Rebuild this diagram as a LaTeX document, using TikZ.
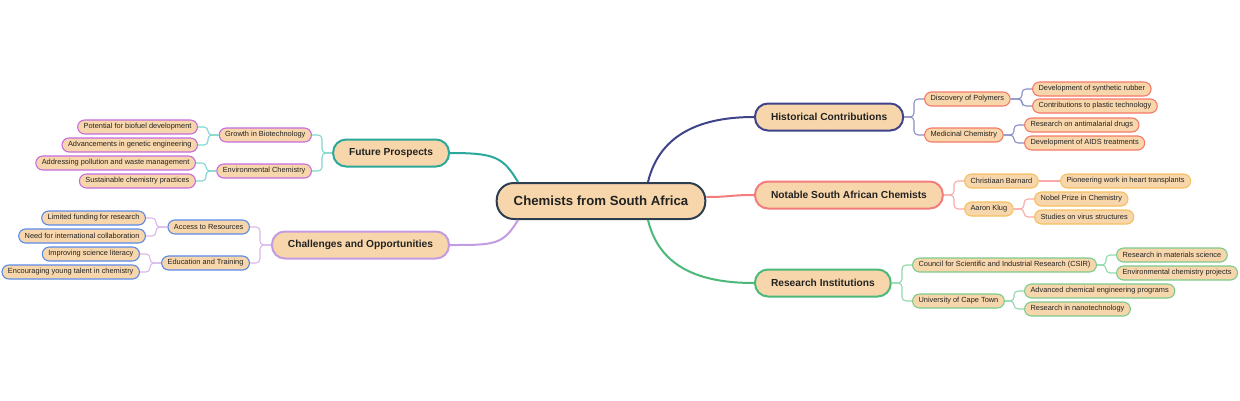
\documentclass[tikz,border=0pt]{standalone}
\usepackage{fontspec}
\setmainfont{Liberation Sans}
\usetikzlibrary{calc}
\definecolor{peach}{HTML}{F8D6AB}
\definecolor{rootc}{HTML}{2C3E50}
\definecolor{histc}{HTML}{3F448A}
\definecolor{histl}{HTML}{8A8FC4}
\definecolor{histb}{HTML}{F47A68}
\definecolor{notc}{HTML}{F47C7C}
\definecolor{notl}{HTML}{F8AAAA}
\definecolor{notb}{HTML}{F5C060}
\definecolor{resc}{HTML}{4CB87A}
\definecolor{resl}{HTML}{92D8AA}
\definecolor{resb}{HTML}{7CCB8C}
\definecolor{futc}{HTML}{2AA89A}
\definecolor{futl}{HTML}{80D6CE}
\definecolor{futb}{HTML}{C86CE0}
\definecolor{chac}{HTML}{C39BE0}
\definecolor{chal}{HTML}{D8B8EC}
\definecolor{chab}{HTML}{5A8AE8}
\definecolor{txt}{HTML}{222222}
\tikzset{
  rootbox/.style={draw=rootc, line width=2pt, fill=peach, rounded corners=17pt, minimum height=36pt, inner xsep=17pt, text=txt, font=\fontsize{13.2}{15}\selectfont\bfseries},
  mainbox/.style={draw=#1, line width=2pt, fill=peach, rounded corners=13pt, minimum height=27pt, inner xsep=16pt, text=txt, font=\fontsize{10.2}{12}\selectfont\bfseries},
  leafbox/.style={draw=#1, line width=1.1pt, fill=peach, rounded corners=7pt, minimum height=14pt, inner ysep=1pt, inner xsep=6pt, text=txt, font=\fontsize{7.4}{8.5}\selectfont},
  trunk/.style={draw=#1, line width=2pt},
  twig/.style={draw=#1, line width=1.1pt, rounded corners=4pt},
}
\newcommand{\rlink}[3]{\draw[twig=#1] (#2.east) -| ([xshift=-10pt]#3.west) -- (#3.west);}
\newcommand{\llink}[3]{\draw[twig=#1] (#2.west) -| ([xshift=10pt]#3.east) -- (#3.east);}
\begin{document}
\begin{tikzpicture}[x=1pt,y=-1pt]
\useasboundingbox (0,0) rectangle (1240,400);
% root
\node[rootbox] (root) at (601,201) {Chemists from South Africa};
% main branches
\node[mainbox=histc, anchor=west] (hist) at (754,117) {Historical Contributions};
\node[mainbox=notc, anchor=west] (nsac) at (754,195) {Notable South African Chemists};
\node[mainbox=resc, anchor=west] (res) at (754,283) {Research Institutions};
\node[mainbox=futc, anchor=east] (fut) at (450,153) {Future Prospects};
\node[mainbox=chac, anchor=east] (cha) at (450,245) {Challenges and Opportunities};
% root connectors
\draw[trunk=histc] ($(root.north)+(47,0)$) .. controls +(12,-50) and +(-50,0) .. (hist.west);
\draw[trunk=notc] ($(root.east)+(0,-4)$) .. controls +(25,0) and +(-25,0) .. (nsac.west);
\draw[trunk=resc] ($(root.south)+(47,0)$) .. controls +(12,50) and +(-50,0) .. (res.west);
\draw[trunk=futc] ($(root.north)+(-83,0)$) .. controls +(-15,-25) and +(45,0) .. (fut.east);
\draw[trunk=chac] ($(root.south)+(-83,0)$) .. controls +(-15,25) and +(45,0) .. (cha.east);
% Historical
\node[leafbox=histb, anchor=west] (poly) at (924,99) {Discovery of Polymers};
\node[leafbox=histb, anchor=west] (med) at (924,135) {Medicinal Chemistry};
\node[leafbox=histb, anchor=west] (rub) at (1032,89) {Development of synthetic rubber};
\node[leafbox=histb, anchor=west] (pla) at (1032,106) {Contributions to plastic technology};
\node[leafbox=histb, anchor=west] (mal) at (1024,125) {Research on antimalarial drugs};
\node[leafbox=histb, anchor=west] (aids) at (1024,143) {Development of AIDS treatments};
\rlink{histl}{hist}{poly}
\rlink{histl}{hist}{med}
\rlink{histl}{poly}{rub}
\rlink{histl}{poly}{pla}
\rlink{histl}{med}{mal}
\rlink{histl}{med}{aids}
% Notable
\node[leafbox=notb, anchor=west] (barn) at (964,181) {Christiaan Barnard};
\node[leafbox=notb, anchor=west] (klug) at (964,209) {Aaron Klug};
\node[leafbox=notb, anchor=west] (heart) at (1060,181) {Pioneering work in heart transplants};
\node[leafbox=notb, anchor=west] (nob) at (1034,199) {Nobel Prize in Chemistry};
\node[leafbox=notb, anchor=west] (vir) at (1034,217) {Studies on virus structures};
\rlink{notl}{nsac}{barn}
\rlink{notl}{nsac}{klug}
\draw[twig=notl] (barn.east) -- (heart.west);
\rlink{notl}{klug}{nob}
\rlink{notl}{klug}{vir}
% Research
\node[leafbox=resb, anchor=west] (csir) at (912,265) {Council for Scientific and Industrial Research (CSIR)};
\node[leafbox=resb, anchor=west] (uct) at (912,301) {University of Cape Town};
\node[leafbox=resb, anchor=west] (mat) at (1116,255) {Research in materials science};
\node[leafbox=resb, anchor=west] (envp) at (1116,273) {Environmental chemistry projects};
\node[leafbox=resb, anchor=west] (adv) at (1024,291) {Advanced chemical engineering programs};
\node[leafbox=resb, anchor=west] (nano) at (1024,309) {Research in nanotechnology};
\rlink{resl}{res}{csir}
\rlink{resl}{res}{uct}
\rlink{resl}{csir}{mat}
\rlink{resl}{csir}{envp}
\rlink{resl}{uct}{adv}
\rlink{resl}{uct}{nano}
% Future
\node[leafbox=futb, anchor=east] (bio) at (312,135) {Growth in Biotechnology};
\node[leafbox=futb, anchor=east] (envc) at (312,171) {Environmental Chemistry};
\node[leafbox=futb, anchor=east] (fuel) at (198,127) {Potential for biofuel development};
\node[leafbox=futb, anchor=east] (gen) at (198,145) {Advancements in genetic engineering};
\node[leafbox=futb, anchor=east] (poll) at (196,163) {Addressing pollution and waste management};
\node[leafbox=futb, anchor=east] (sus) at (196,181) {Sustainable chemistry practices};
\llink{futl}{fut}{bio}
\llink{futl}{fut}{envc}
\llink{futl}{bio}{fuel}
\llink{futl}{bio}{gen}
\llink{futl}{envc}{poll}
\llink{futl}{envc}{sus}
% Challenges
\node[leafbox=chab, anchor=east] (acc) at (250,227) {Access to Resources};
\node[leafbox=chab, anchor=east] (edu) at (250,263) {Education and Training};
\node[leafbox=chab, anchor=east] (lim) at (146,218) {Limited funding for research};
\node[leafbox=chab, anchor=east] (need) at (146,236) {Need for international collaboration};
\node[leafbox=chab, anchor=east] (imp) at (140,254) {Improving science literacy};
\node[leafbox=chab, anchor=east] (enc) at (140,272) {Encouraging young talent in chemistry};
\llink{chal}{cha}{acc}
\llink{chal}{cha}{edu}
\llink{chal}{acc}{lim}
\llink{chal}{acc}{need}
\llink{chal}{edu}{imp}
\llink{chal}{edu}{enc}
\end{tikzpicture}
\end{document}
